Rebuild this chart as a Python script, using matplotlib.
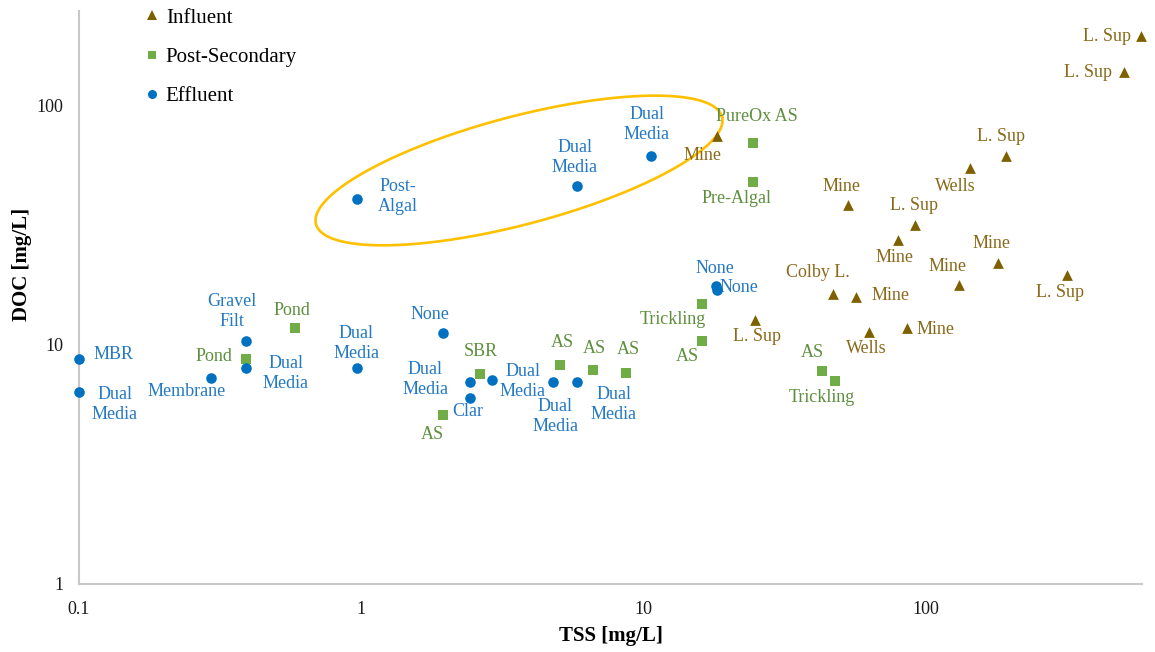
import matplotlib
matplotlib.use('Agg')
import matplotlib.pyplot as plt
from matplotlib.lines import Line2D
import numpy as np

plt.rcParams['font.family'] = ['Liberation Serif', 'DejaVu Serif']

# Influent samples: TSS, DOC [mg/L]
inf_tss = [18.2, 24.8, 53.0, 91.5, 79.6, 143, 192, 46.9, 56.5, 131, 180, 316, 62.9, 85.7, 580, 503]
inf_doc = [73.9, 12.7, 38.4, 31.7, 27.4, 54.8, 61.0, 16.2, 15.8, 17.8, 22.0, 19.6, 11.3, 11.75, 194, 137]
inf_names = ['Mine', 'L. Sup', 'Mine', 'L. Sup', 'Mine', 'Wells', 'L. Sup', 'Colby L.', 'Mine',
             'Mine', 'Mine', 'L. Sup', 'Wells', 'Mine', 'L. Sup', 'L. Sup']

# Post-secondary samples
sec_tss = [0.39, 0.582, 1.95, 2.63, 5.06, 6.62, 8.66, 16.1, 16.1, 24.4, 24.4, 42.9, 47.6]
sec_doc = [8.72, 11.75, 5.09, 7.55, 8.23, 7.85, 7.62, 14.8, 10.37, 69.1, 47.5, 7.77, 7.06]
sec_names = ['Pond', 'Pond', 'AS', 'SBR', 'AS', 'AS', 'AS', 'Trickling', 'AS', 'PureOx AS',
             'Pre-Algal', 'AS', 'Trickling']

# Effluent samples
eff_tss = [0.1, 0.1, 0.293, 0.39, 0.39, 0.966, 0.966, 1.95, 2.43, 2.43, 2.90, 4.78, 5.81,
           5.81, 10.6, 18.2, 18.0]
eff_doc = [8.72, 6.35, 7.26, 10.37, 8.0, 8.0, 40.7, 11.2, 6.99, 5.99, 7.13, 6.99, 6.99,
           46.1, 61.5, 16.9, 17.6]
eff_names = ['MBR', 'Dual\nMedia', 'Membrane', 'Gravel\nFilt', 'Dual\nMedia', 'Dual\nMedia',
             'Post-\nAlgal', 'None', 'Dual\nMedia', 'Clar', 'Dual\nMedia', 'Dual\nMedia',
             'Dual\nMedia', 'Dual\nMedia', 'Dual\nMedia', 'None', 'None']

# label offsets in pixels (right, up) from each marker
inf_offsets = [(-14, -19), (2, -17), (-7, 18), (-1, 19), (-3, -18), (-14, -19), (-5, 20),
               (-15, 22), (35, 1), (-11, 18), (-6, 19), (-7, -18), (-3, -17), (29, -2),
               (-34, 0), (-36, 0)]
sec_offsets = [(-32, 2), (-3, 17), (-11, -20), (1, 22), (2, 22), (1, 21), (2, 23), (-29, -16),
               (-15, -16), (4, 27), (-16, -16), (-10, 18), (-13, -17)]
eff_offsets = [(35, 4), (36, -13), (-24, -14), (-14, 29), (40, -6), (-1, 24), (41, 2),
               (-13, 18), (-45, 2), (-2, -14), (31, -2), (2, -35), (37, -23), (-2, 28),
               (-4, 31), (22, 2), (-1, 17)]

BROWN, BROWN_TXT = '#7F6000', '#8A6A1A'
GREEN, GREEN_TXT = '#70AD47', '#5E8F3E'
BLUE, BLUE_TXT = '#0070C0', '#2479C4'

fig = plt.figure(figsize=(11.55, 6.52), dpi=100)
ax = fig.add_axes([79 / 1155, 1 - 584 / 652, 1063 / 1155, 573 / 652])
ax.set_xscale('log')
ax.set_yscale('log')
ax.set_xlim(0.1, 583)
ax.set_ylim(1, 247)

ax.scatter(inf_tss, inf_doc, marker='^', s=60, color=BROWN, linewidths=0, zorder=3,
           clip_on=False)
ax.scatter(sec_tss, sec_doc, marker='s', s=50, color=GREEN, linewidths=0, zorder=3)
ax.scatter(eff_tss, eff_doc, marker='o', s=58, color=BLUE, linewidths=0, zorder=4,
           clip_on=False)

for xs, ys, names, offs, col in [(inf_tss, inf_doc, inf_names, inf_offsets, BROWN_TXT),
                                 (sec_tss, sec_doc, sec_names, sec_offsets, GREEN_TXT),
                                 (eff_tss, eff_doc, eff_names, eff_offsets, BLUE_TXT)]:
    for x, y, name, (dx, dy) in zip(xs, ys, names, offs):
        ax.annotate(name, (x, y), xytext=(dx, dy), textcoords='offset pixels',
                    ha='center', va='center', fontsize=13, color=col,
                    linespacing=1.25, annotation_clip=False)

# axes styling
for side in ['top', 'right']:
    ax.spines[side].set_visible(False)
for side in ['left', 'bottom']:
    ax.spines[side].set_color('#C8C8C8')
    ax.spines[side].set_linewidth(1.5)
ax.set_xticks([0.1, 1, 10, 100])
ax.set_xticklabels(['0.1', '1', '10', '100'])
ax.set_yticks([1, 10, 100])
ax.set_yticklabels(['1', '10', '100'])
ax.minorticks_off()
ax.tick_params(length=0, labelsize=13, labelcolor='#1A1A1A')
ax.tick_params(axis='x', pad=12)
ax.tick_params(axis='y', pad=11)

ax.set_xlabel('TSS [mg/L]', fontsize=15, fontweight='bold')
ax.set_ylabel('DOC [mg/L]', fontsize=15, fontweight='bold')
ax.xaxis.set_label_coords(0.5, -0.073)
ax.yaxis.set_label_coords(-0.044, 0.558)

# highlight around the high-DOC effluent group
cx, cy = ax.transData.transform((3.62, 53.3))
t = np.linspace(0, 2 * np.pi, 300)
a, b, ang = 210, 54, np.deg2rad(14.8)
ex = cx + a * np.cos(t) * np.cos(ang) - b * np.sin(t) * np.sin(ang)
ey = cy + a * np.cos(t) * np.sin(ang) + b * np.sin(t) * np.cos(ang)
pts = ax.transData.inverted().transform(np.column_stack([ex, ey]))
ax.plot(pts[:, 0], pts[:, 1], color='#FFC000', lw=1.9, zorder=2)

handles = [Line2D([], [], marker='^', ls='none', color=BROWN, markersize=6.5, mew=0),
           Line2D([], [], marker='s', ls='none', color=GREEN, markersize=6, mew=0),
           Line2D([], [], marker='o', ls='none', color=BLUE, markersize=6.5, mew=0)]
fig.legend(handles, ['Influent', 'Post-Secondary', 'Effluent'], loc='upper left',
           bbox_to_anchor=(146 / 1155, 1 - 8 / 652), frameon=False, fontsize=15,
           handlelength=0.6, handletextpad=0.35, labelspacing=0.95,
           borderpad=0, borderaxespad=0)

fig.savefig('out.png', dpi=100, facecolor='white')
